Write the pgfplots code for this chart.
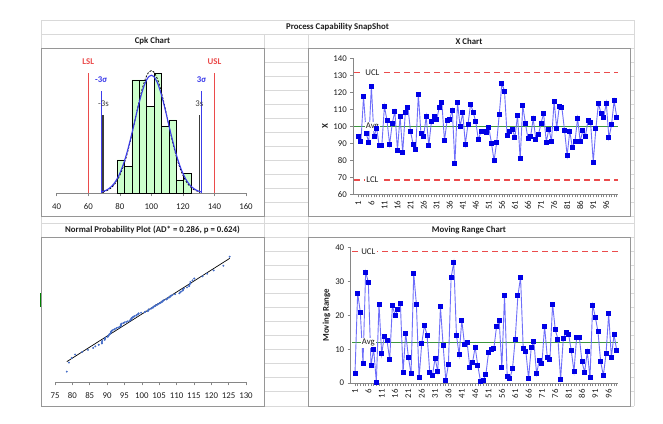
\documentclass[border=0pt]{standalone}
\usepackage{fontspec}
\setmainfont{Carlito}
\usepackage{pgfplots}
\pgfplotsset{compat=1.18}
\definecolor{gridgray}{RGB}{217,217,217}
\definecolor{boxgray}{RGB}{150,150,150}
\definecolor{axgray}{RGB}{134,134,134}
\definecolor{lineblue}{RGB}{110,110,250}
\definecolor{markblue}{RGB}{0,0,230}
\definecolor{uclred}{RGB}{235,75,75}
\definecolor{avggreen}{RGB}{60,150,60}
\definecolor{bargreen}{RGB}{204,255,204}
\definecolor{sigblue}{RGB}{60,60,235}
\definecolor{sgray}{RGB}{60,60,60}
\definecolor{ptblue}{RGB}{70,110,200}
\definecolor{txt}{RGB}{30,30,30}
\newcommand{\fs}{\fontsize{8.8}{10}\selectfont}
\pgfplotsset{
 every axis/.append style={
  scale only axis, anchor=south west,
  /pgf/number format/assume math mode=true,
  tick label style={font=\fs, color=txt},
  axis line style={axgray, line width=0.8pt},
  tick style={axgray, line width=0.6pt},
  major tick length=3pt, minor tick length=3pt,
  tick align=outside,
  clip=false,
 },
}
\begin{document}
\begin{tikzpicture}[x=1pt,y=1pt]
\fill[white] (0,0) rectangle (663,423);
\useasboundingbox (0,0) rectangle (663,423);
% spreadsheet grid
\begin{scope}[gridgray, line width=0.6pt]
 \foreach \yy in {403,388.7,374.5,360.5,346.5,332.5,318.5,304.5,290.5,276.5,262.5,248.5,234.5,220.5,206.5,199.7,186,172,158,144,130,116,102,88,74,60,46,32,17} {\draw (41,\yy) -- (634,\yy);}
 \foreach \xx in {41,634} {\draw (\xx,17) -- (\xx,403);}
 \foreach \xx in {264,308.3} {\draw (\xx,17) -- (\xx,388.7);}
\end{scope}
\draw[green!50!black, line width=1.5pt] (40.7,116) -- (40.7,130);
% chart boxes
\begin{scope}[boxgray, fill=white, line width=0.8pt]
 \filldraw (41,206.5) rectangle (264,374.5);
 \filldraw (308.3,206.5) rectangle (630,374.5);
 \filldraw (41,17) rectangle (264,186);
 \filldraw (308.3,17) rectangle (630,186);
\end{scope}
% titles
\begin{scope}[font=\bfseries\fs, txt]
 \node at (337.5,395.7) {Process Capability SnapShot};
 \node at (152.5,381.5) {Cpk Chart};
 \node at (469,381.5) {X Chart};
 \node at (152.5,192.7) {Normal Probability Plot (AD* = 0.286, p = 0.624)};
 \node at (469,192.7) {Moving Range Chart};
\end{scope}

% ---------------- Cpk chart
\begin{axis}[at={(56.7pt,229.7pt)}, width=189.3pt, height=138.3pt,
  xmin=40, xmax=160, ymin=0, ymax=20.74,
  axis x line*=bottom, axis y line=none,
  xtick={40,60,...,160}, ytick=\empty,
  xticklabel shift=4pt]
\addplot[ybar interval, fill=bargreen, draw=black, line width=0.7pt] coordinates {
 (78.3,5) (83.0,4) (87.7,17) (92.4,17) (97.1,13) (101.8,18) (106.5,10) (111.2,11) (115.9,2) (120.6,3) (125.3,3)};
\addplot[uclred, line width=1.2pt] coordinates {(60,0) (60,18.1)};
\addplot[uclred, line width=1.2pt] coordinates {(140,0) (140,18.1)};
\addplot[sigblue, line width=1.2pt] coordinates {(68.2,0) (68.2,15.4)};
\addplot[sigblue, line width=1.2pt] coordinates {(131.8,0) (131.8,15.4)};
\addplot[sgray, line width=1.2pt] coordinates {(69.4,0) (69.4,11.8)};
\addplot[sgray, line width=1.2pt] coordinates {(130.6,0) (130.6,11.8)};
\addplot[black, line width=0.8pt, smooth, dash pattern=on 2pt off 1.5pt] coordinates {
 (69.4,0.20) (71.5,0.37) (73,0.55) (74.5,0.81) (76,1.16) (77.5,1.62) (79,2.21) (80.5,2.96) (82,3.88) (83.5,4.97) (85,6.24) (86.5,7.66) (88,9.21) (89.5,10.83) (91,12.47) (92.5,14.04) (94,15.48) (95.5,16.69) (97,17.62) (98.5,18.2) (100,18.4)
 (101.5,18.2) (103,17.62) (104.5,16.69) (106,15.48) (107.5,14.04) (109,12.47) (110.5,10.83) (112,9.21) (113.5,7.66) (115,6.24) (116.5,4.97) (118,3.88) (119.5,2.96) (121,2.21) (122.5,1.62) (124,1.16) (125.5,0.81) (127,0.55) (128.5,0.37) (130.6,0.20)};
\addplot[sigblue, line width=1.1pt, smooth] coordinates {
 (68.2,0.20) (70,0.32) (71.5,0.48) (73,0.69) (74.5,0.98) (76,1.36) (77.5,1.86) (79,2.49) (80.5,3.26) (82,4.19) (83.5,5.27) (85,6.50) (86.5,7.87) (88,9.32) (89.5,10.84) (91,12.34) (92.5,13.78) (94,15.08) (95.5,16.17) (97,17.0) (98.5,17.52) (100,17.7)
 (101.5,17.52) (103,17.0) (104.5,16.17) (106,15.08) (107.5,13.78) (109,12.34) (110.5,10.84) (112,9.32) (113.5,7.87) (115,6.50) (116.5,5.27) (118,4.19) (119.5,3.26) (121,2.49) (122.5,1.86) (124,1.36) (125.5,0.98) (127,0.69) (128.5,0.48) (130,0.32) (131.8,0.20)};
\node[font=\bfseries\fs, uclred] at (axis cs:60,19.7) {LSL};
\node[font=\bfseries\fs, uclred] at (axis cs:140,19.7) {USL};
\node[font=\bfseries\fs, sigblue] at (axis cs:68.2,17) {-3σ};
\node[font=\bfseries\fs, sigblue] at (axis cs:131.8,17) {3σ};
\node[font=\fs, sgray] at (axis cs:69.6,13.5) {-3s};
\node[font=\fs, sgray] at (axis cs:130.4,13.5) {3s};
\end{axis}

% ---------------- X chart
\begin{axis}[at={(353.3pt,228.7pt)}, width=265pt, height=136pt,
  xmin=-0.92, xmax=100.6, ymin=60, ymax=140,
  axis lines*=left,
  ytick={60,70,...,140}, xtick={1,6,...,96}, minor xtick={1,...,100},
  xticklabel style={rotate=90, anchor=east},
  ylabel={X}, ylabel style={font=\bfseries\fs, txt, at={(axis description cs:-0.107,0.5)}, anchor=center}]
\addplot[uclred, line width=1.1pt, dash pattern=on 6pt off 4pt] coordinates {(-0.5,131.6) (100.6,131.6)};
\addplot[uclred, line width=1.1pt, dash pattern=on 6pt off 4pt] coordinates {(-0.5,68.4) (100.6,68.4)};
\addplot[avggreen, line width=1pt] coordinates {(-0.5,100) (100.6,100)};
\addplot[lineblue, line width=0.9pt, mark=square*, mark size=2pt, mark options={draw=markblue, fill=markblue}] coordinates {
 (1,93.9) (2,91.0) (3,117.5) (4,96.0) (5,90.5) (6,123.5) (7,94.0) (8,99.0) (9,88.5) (10,88.5)
 (11,111.8) (12,103.2) (13,89.3) (14,101.7) (15,108.8) (16,86.0) (17,106.0) (18,84.5) (19,108.1) (20,111.3)
 (21,97.0) (22,89.4) (23,86.6) (24,118.8) (25,95.5) (26,94.0) (27,105.7) (28,88.6) (29,102.8) (30,106.0)
 (31,103.9) (32,111.0) (33,114.0) (34,91.5) (35,103.3) (36,104.0) (37,109.6) (38,78.4) (39,114.0) (40,99.8)
 (41,108.0) (42,89.5) (43,101.0) (44,113.0) (45,108.4) (46,102.6) (47,92.0) (48,97.2) (49,97.0) (50,96.6)
 (51,99.1) (52,90.2) (53,79.8) (54,90.4) (55,107.1) (56,125.3) (57,120.7) (58,94.7) (59,96.7) (60,97.9)
 (61,93.6) (62,106.4) (63,80.8) (64,112.1) (65,101.9) (66,92.7) (67,94.0) (68,104.5) (69,92.3) (70,95.0)
 (71,101.9) (72,107.5) (73,90.7) (74,98.4) (75,91.3) (76,114.6) (77,98.9) (78,111.9) (79,110.8) (80,97.7)
 (81,82.8) (82,97.0) (83,87.6) (84,91.1) (85,104.7) (86,91.1) (87,97.4) (88,94.2) (89,103.5) (90,102.0)
 (91,79.0) (92,98.5) (93,113.6) (94,107.3) (95,105.1) (96,113.7) (97,93.2) (98,100.8) (99,115.1) (100,105.4)};
\node[font=\fs, txt, fill=white, inner sep=1.2pt] at (axis cs:6.4,131.6) {UCL};
\node[font=\fs, txt, fill=white, inner sep=1.2pt] at (axis cs:6.4,100) {Avg};
\node[font=\fs, txt, fill=white, inner sep=1.2pt] at (axis cs:6.4,68.4) {LCL};
\end{axis}

% ---------------- Normal probability plot
\begin{axis}[at={(55pt,40.7pt)}, width=191pt, height=137.3pt,
  xmin=75, xmax=130, ymin=-3.054, ymax=3.1,
  axis x line*=bottom, axis y line=none,
  xtick={75,80,...,130}, ytick=\empty, xticklabel shift=4pt]
\addplot[black, line width=0.7pt] coordinates {(78.4,-2.128) (125.3,2.50)};
\addplot[only marks, mark=*, mark size=0.75pt, ptblue] coordinates {
 (78.4,-2.576) (79.0,-2.170) (79.8,-1.960) (80.8,-1.812) (82.8,-1.695) (84.5,-1.598) (86.0,-1.514) (86.6,-1.440) (87.6,-1.372) (88.5,-1.311)
 (88.5,-1.254) (88.6,-1.200) (89.3,-1.150) (89.4,-1.103) (89.5,-1.058) (90.2,-1.015) (90.4,-0.974) (90.5,-0.935) (90.7,-0.896) (91.0,-0.860)
 (91.1,-0.824) (91.1,-0.789) (91.3,-0.755) (91.5,-0.722) (92.0,-0.690) (92.3,-0.659) (92.7,-0.628) (93.2,-0.598) (93.6,-0.568) (93.9,-0.539)
 (94.0,-0.510) (94.0,-0.482) (94.0,-0.454) (94.2,-0.426) (94.7,-0.399) (95.0,-0.372) (95.5,-0.345) (96.0,-0.319) (96.6,-0.292) (96.7,-0.266)
 (97.0,-0.240) (97.0,-0.215) (97.0,-0.189) (97.2,-0.164) (97.4,-0.138) (97.7,-0.113) (97.9,-0.088) (98.4,-0.063) (98.5,-0.038) (98.9,-0.013)
 (99.0,0.013) (99.1,0.038) (99.8,0.063) (100.8,0.088) (101.0,0.113) (101.7,0.138) (101.9,0.164) (101.9,0.189) (102.0,0.215) (102.6,0.240)
 (102.8,0.266) (103.2,0.292) (103.3,0.319) (103.5,0.345) (103.9,0.372) (104.0,0.399) (104.5,0.426) (104.7,0.454) (105.1,0.482) (105.4,0.510)
 (105.7,0.539) (106.0,0.568) (106.0,0.598) (106.4,0.628) (107.1,0.659) (107.3,0.690) (107.5,0.722) (108.0,0.755) (108.1,0.789) (108.4,0.824)
 (108.8,0.860) (109.6,0.896) (110.8,0.935) (111.0,0.974) (111.3,1.015) (111.8,1.058) (111.9,1.103) (112.1,1.150) (113.0,1.200) (113.6,1.254)
 (113.7,1.311) (114.0,1.372) (114.0,1.440) (114.6,1.514) (115.1,1.598) (117.5,1.695) (118.8,1.812) (120.7,1.960) (123.5,2.170) (125.3,2.576)};
\end{axis}

% ---------------- Moving range chart
\begin{axis}[at={(350.7pt,40pt)}, width=267.6pt, height=135.3pt,
  xmin=-0.6, xmax=99.6, ymin=0, ymax=40,
  axis lines*=left,
  ytick={0,10,...,40}, xtick={1,6,...,96}, minor xtick={1,...,99},
  xticklabel style={rotate=90, anchor=east},
  ylabel={Moving Range}, ylabel style={font=\bfseries\fs, txt, at={(axis description cs:-0.09,0.5)}, anchor=center}]
\addplot[uclred, line width=1.1pt, dash pattern=on 6pt off 4pt] coordinates {(0,38.9) (99.6,38.9)};
\addplot[avggreen, line width=1pt] coordinates {(0,11.9) (99.6,11.9)};
\addplot[lineblue, line width=0.9pt, mark=square*, mark size=2pt, mark options={draw=markblue, fill=markblue}] coordinates {
 (1,2.7) (2,26.5) (3,21.0) (4,5.9) (5,32.8) (6,29.8) (7,5.3) (8,10.0) (9,0.3) (10,23.3)
 (11,8.6) (12,13.9) (13,12.6) (14,6.9) (15,22.8) (16,20.1) (17,21.7) (18,23.6) (19,3.1) (20,14.7)
 (21,7.6) (22,2.7) (23,32.3) (24,23.3) (25,1.5) (26,11.7) (27,17.0) (28,14.2) (29,3.1) (30,2.1)
 (31,7.4) (32,3.3) (33,22.5) (34,11.2) (35,0.8) (36,5.6) (37,31.2) (38,35.6) (39,14.2) (40,8.3)
 (41,18.5) (42,11.5) (43,11.9) (44,4.7) (45,6.0) (46,10.6) (47,5.1) (48,0.5) (49,0.8) (50,2.5)
 (51,8.9) (52,10.0) (53,10.2) (54,16.6) (55,18.4) (56,4.6) (57,26.0) (58,2.0) (59,1.3) (60,4.3)
 (61,13.0) (62,25.8) (63,31.3) (64,10.1) (65,9.2) (66,1.3) (67,10.5) (68,12.2) (69,2.7) (70,6.8)
 (71,5.7) (72,16.8) (73,7.7) (74,7.1) (75,23.3) (76,15.7) (77,13.0) (78,1.1) (79,13.1) (80,14.9)
 (81,14.4) (82,9.5) (83,3.4) (84,13.6) (85,13.6) (86,6.3) (87,3.2) (88,9.3) (89,1.5) (90,23.0)
 (91,19.5) (92,15.1) (93,6.3) (94,2.2) (95,8.6) (96,20.5) (97,7.6) (98,14.3) (99,9.7)};
\node[font=\fs, txt, fill=white, inner sep=1.2pt] at (axis cs:6.0,38.9) {UCL};
\node[font=\fs, txt, fill=white, inner sep=1.2pt] at (axis cs:6.0,11.9) {Avg};
\end{axis}
\end{tikzpicture}
\end{document}
